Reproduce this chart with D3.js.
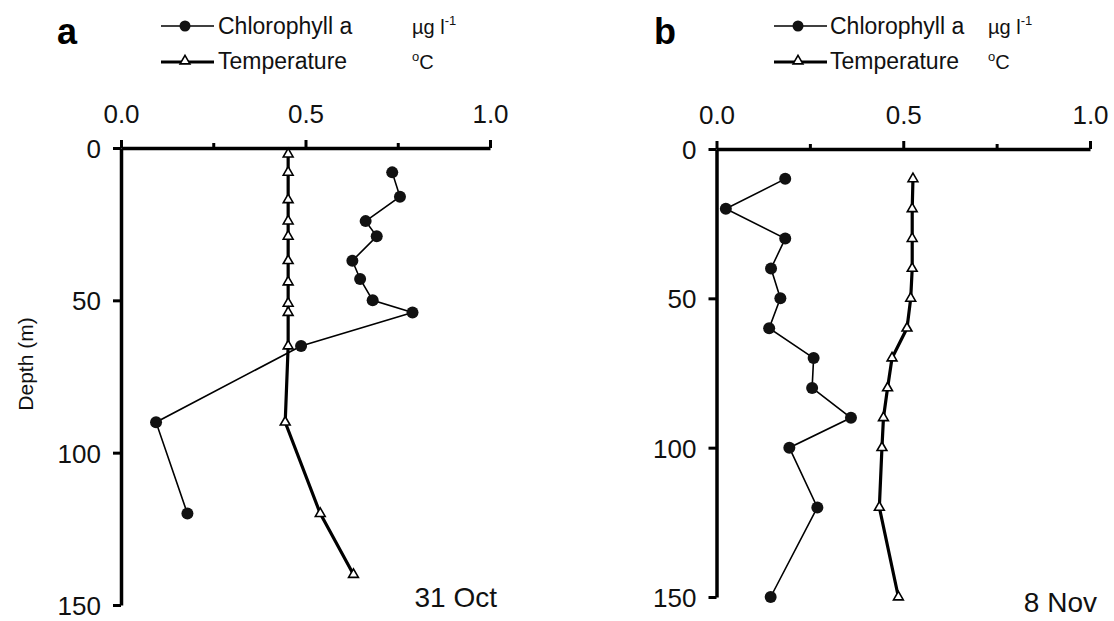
<!DOCTYPE html>
<html>
<head>
<meta charset="utf-8">
<script src="https://cdn.jsdelivr.net/npm/d3@7"></script>
<style>
  body { margin: 0; background: #fff; }
  svg { font-family: "Liberation Sans", Arial, Helvetica, sans-serif; }
</style>
</head>
<body>
<script>
// values (depth in m; chl in ug/l, temp in degC)
var chlDepthA = [8, 16, 24, 29, 37, 43, 50, 54, 65, 90, 120];
var chlA      = [0.735, 0.756, 0.663, 0.693, 0.627, 0.648, 0.682, 0.79, 0.488, 0.095, 0.18];
var tempDepthA = [2, 8, 17, 24, 29, 37, 44, 51, 54, 65, 90, 120, 140];
var tempA      = [0.453, 0.453, 0.453, 0.453, 0.453, 0.453, 0.453, 0.453, 0.453, 0.453, 0.445, 0.54, 0.63];

var chlDepthB = [10, 20, 30, 40, 50, 60, 70, 80, 90, 100, 120, 150];
var chlB      = [0.184, 0.025, 0.184, 0.146, 0.171, 0.141, 0.26, 0.256, 0.36, 0.195, 0.27, 0.145];
var tempDepthB = [10, 20, 30, 40, 50, 60, 70, 80, 90, 100, 120, 150];
var tempB      = [0.526, 0.524, 0.524, 0.524, 0.52, 0.51, 0.47, 0.458, 0.447, 0.443, 0.436, 0.487];

var xTicks = [0, 0.25, 0.5, 0.75, 1];
var yTicks = [0, 50, 100, 150];
var legendNames = ['Chlorophyll a', 'Temperature'];

var svg = d3.select('body').append('svg')
  .attr('width', 1114)
  .attr('height', 621);

function zip(depths, vals) {
  return depths.map(function(d, i) { return {depth: d, v: vals[i]}; });
}

var panels = [
  {letter: 'a', date: '31 Oct', x0: 121, x1: 490, y0: 148, y1: 605,
   letterX: 57, legX: 161, textX: 218, unitX: 412, dateY: 607, dateX: 497,
   chl: zip(chlDepthA, chlA), temp: zip(tempDepthA, tempA)},
  {letter: 'b', date: '8 Nov', x0: 716.5, x1: 1090, y0: 149, y1: 597,
   letterX: 654, legX: 774, textX: 830, unitX: 988, dateY: 612, dateX: 1097,
   chl: zip(chlDepthB, chlB), temp: zip(tempDepthB, tempB)}
];

panels.forEach(function(p) {
  var g = svg.append('g');
  var x = d3.scaleLinear().domain([0, 1]).range([p.x0, p.x1]);
  var y = d3.scaleLinear().domain([0, 150]).range([p.y0, p.y1]);

  // top axis
  var xa = g.append('g')
    .attr('transform', 'translate(0,' + p.y0 + ')')
    .call(d3.axisTop(x).tickValues(xTicks).tickSize(7).tickSizeOuter(0).tickPadding(18)
      .tickFormat(function(d) { return d % 0.5 === 0 ? d3.format('.1f')(d) : ''; }));
  xa.selectAll('.tick line').attr('y2', function(d) { return d % 0.5 === 0 ? -8 : -5; });

  // left axis
  var ya = g.append('g')
    .attr('transform', 'translate(' + p.x0 + ',0)')
    .call(d3.axisLeft(y).tickValues(yTicks).tickSize(8).tickSizeOuter(0).tickPadding(12));

  g.selectAll('.domain').attr('stroke', '#000').attr('stroke-width', 3.5);
  g.selectAll('.tick line').attr('stroke', '#000').attr('stroke-width', 3);
  g.selectAll('.tick text').attr('fill', '#111').attr('font-size', 26);
  ya.selectAll('.tick text').attr('dy', '0.36em');

  var line = d3.line()
    .x(function(d) { return x(d.v); })
    .y(function(d) { return y(d.depth); });

  g.append('path').datum(p.temp)
    .attr('d', line)
    .attr('fill', 'none').attr('stroke', '#000').attr('stroke-width', 3.2)
    .attr('stroke-linejoin', 'round');

  g.append('path').datum(p.chl)
    .attr('d', line)
    .attr('fill', 'none').attr('stroke', '#000').attr('stroke-width', 1.6);

  g.selectAll('.tri').data(p.temp).enter().append('path')
    .attr('class', 'tri')
    .attr('d', d3.symbol(d3.symbolTriangle, 42))
    .attr('transform', function(d) { return 'translate(' + x(d.v) + ',' + y(d.depth) + ')'; })
    .attr('fill', '#fff').attr('stroke', '#000').attr('stroke-width', 1.6);

  g.selectAll('.dot').data(p.chl).enter().append('circle')
    .attr('class', 'dot')
    .attr('cx', function(d) { return x(d.v); })
    .attr('cy', function(d) { return y(d.depth); })
    .attr('r', 6)
    .attr('fill', '#111');

  // panel letter
  g.append('text').attr('x', p.letterX).attr('y', 44)
    .attr('font-size', 36).attr('font-weight', 'bold').text(p.letter);

  // legend
  var lg = g.append('g');
  lg.append('line').attr('x1', p.legX).attr('x2', p.legX + 53).attr('y1', 26).attr('y2', 26)
    .attr('stroke', '#000').attr('stroke-width', 1.6);
  lg.append('circle').attr('cx', p.legX + 24).attr('cy', 26).attr('r', 5.5).attr('fill', '#111');
  lg.append('line').attr('x1', p.legX).attr('x2', p.legX + 53).attr('y1', 62).attr('y2', 62)
    .attr('stroke', '#000').attr('stroke-width', 3);
  lg.append('path').attr('d', d3.symbol(d3.symbolTriangle, 42))
    .attr('transform', 'translate(' + (p.legX + 24) + ',61)')
    .attr('fill', '#fff').attr('stroke', '#000').attr('stroke-width', 1.6);
  lg.selectAll('.lt').data(legendNames).enter().append('text')
    .attr('class', 'lt')
    .attr('x', p.textX).attr('y', function(d, i) { return 34 + i * 35; })
    .attr('font-size', 23).attr('fill', '#111')
    .text(function(d) { return d; });

  var u1 = lg.append('text').attr('x', p.unitX).attr('y', 34).attr('font-size', 20).attr('fill', '#111');
  u1.append('tspan').text('\u00b5g l');
  u1.append('tspan').attr('font-size', 13).attr('dy', -9).text('-1');
  var u2 = lg.append('text').attr('x', p.unitX).attr('y', 69).attr('font-size', 20).attr('fill', '#111');
  u2.append('tspan').attr('font-size', 13).attr('dy', -8).text('o');
  u2.append('tspan').attr('dy', 8).text('C');

  // date
  g.append('text').attr('x', p.dateX).attr('y', p.dateY)
    .attr('text-anchor', 'end').attr('font-size', 28).attr('fill', '#111')
    .text(p.date);
});

svg.append('text')
  .attr('transform', 'translate(33,364) rotate(-90)')
  .attr('text-anchor', 'middle')
  .attr('font-size', 21).attr('fill', '#111')
  .text('Depth (m)');
</script>
</body>
</html>
